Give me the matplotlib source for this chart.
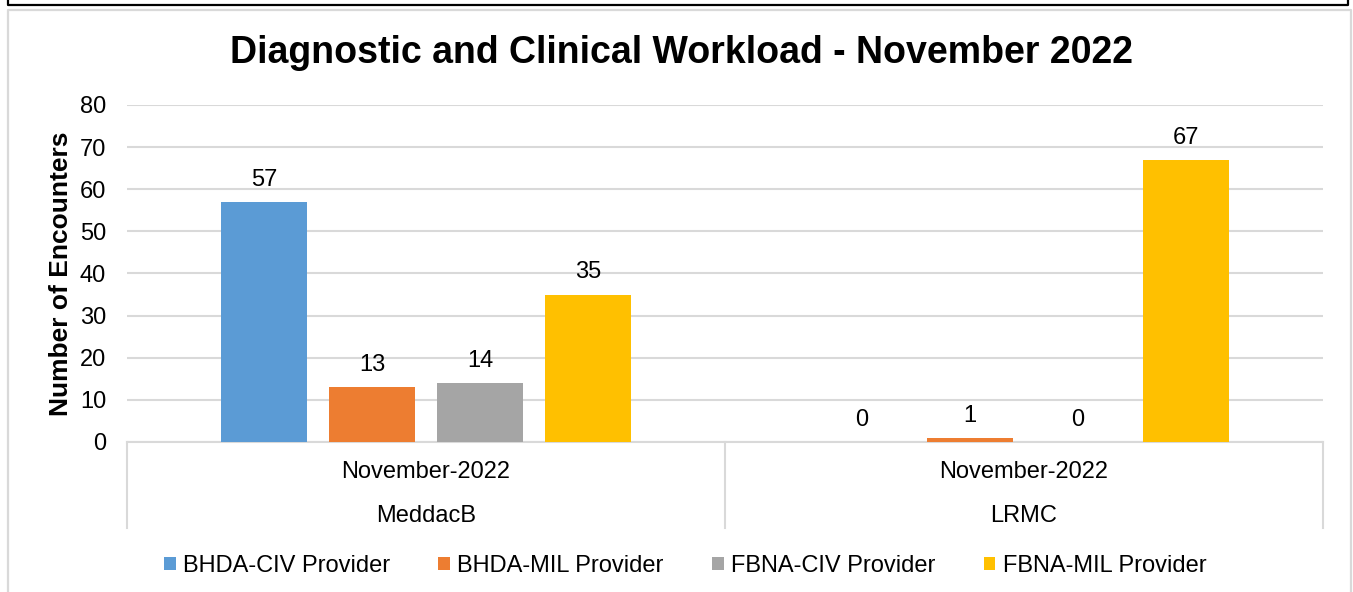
import matplotlib
matplotlib.use('Agg')
import matplotlib.pyplot as plt
from matplotlib.lines import Line2D
from matplotlib.patches import Patch
import numpy as np

# data
sites = ['MeddacB', 'LRMC']
months = ['November-2022', 'November-2022']
series = ['BHDA-CIV Provider', 'BHDA-MIL Provider', 'FBNA-CIV Provider', 'FBNA-MIL Provider']
values = [
    [57, 0],   # BHDA-CIV
    [13, 1],   # BHDA-MIL
    [14, 0],   # FBNA-CIV
    [35, 67],  # FBNA-MIL
]
colors = ['#5B9BD5', '#ED7D31', '#A5A5A5', '#FFC000']
yticks = [0, 10, 20, 30, 40, 50, 60, 70, 80]

plt.rcParams['font.family'] = ['Liberation Sans', 'DejaVu Sans']
GRID = '#D9D9D9'

W, H = 1353, 592
fig = plt.figure(figsize=(W / 100, H / 100), dpi=100)
ax = fig.add_axes([127 / W, 1 - 442 / H, 1196 / W, 337 / H])

x = np.arange(len(sites))
step = 0.1806
width = 0.1438
for i, (name, vals) in enumerate(zip(series, values)):
    pos = x + (i - 1.5) * step
    bars = ax.bar(pos, vals, width=width, color=colors[i], label=name, zorder=3)
    for b, v in zip(bars, vals):
        ax.annotate(str(v), (b.get_x() + b.get_width() / 2, v),
                    xytext=(0, 8), textcoords='offset points',
                    ha='center', va='bottom', fontsize=17)

ax.set_xlim(-0.5, 1.5)
ax.set_ylim(0, 80)
ax.set_yticks(yticks)
ax.tick_params(axis='y', length=0, pad=15, labelsize=17)
ax.set_xticks([])
ax.grid(axis='y', color=GRID, linewidth=1.5, zorder=0)
for s in ['top', 'right', 'left']:
    ax.spines[s].set_visible(False)
ax.spines['bottom'].set_color(GRID)
ax.spines['bottom'].set_linewidth(1.5)

ax.set_ylabel('Number of Encounters', fontsize=19, fontweight='bold')
ax.yaxis.set_label_coords(-0.045, 0.5)

# multi-level category axis
trans = ax.get_xaxis_transform()
for xv in [-0.5, 0.5, 1.5]:
    ax.plot([xv, xv], [0, -0.255], color=GRID, linewidth=1.5,
            transform=trans, clip_on=False)
for xi, m, s in zip(x, months, sites):
    ax.text(xi, -0.089, m, transform=trans, ha='center', va='center', fontsize=17)
    ax.text(xi, -0.220, s, transform=trans, ha='center', va='center', fontsize=17)

fig.text(681 / W, 1 - 53 / H, 'Diagnostic and Clinical Workload - November 2022',
         ha='center', va='center', fontsize=27, fontweight='bold')

handles = [Patch(facecolor=c, edgecolor='none') for c in colors]
fig.legend(handles, series, loc='center', bbox_to_anchor=(685 / W, 1 - 566 / H),
           ncol=4, frameon=False, fontsize=17, handlelength=0.5, handleheight=0.5,
           handletextpad=0.3, columnspacing=2.05)

# chart borders
fig.add_artist(Line2D([8 / W, 8 / W, 1348 / W, 1348 / W], [1, 1 - 5 / H, 1 - 5 / H, 1],
                      color='black', linewidth=1.6, transform=fig.transFigure))
fig.add_artist(Line2D([8 / W, 8 / W, 1351 / W, 1351 / W], [0, 1 - 9.5 / H, 1 - 9.5 / H, 0],
                      color=GRID, linewidth=1.6, transform=fig.transFigure))

fig.savefig('out.png', dpi=100)
